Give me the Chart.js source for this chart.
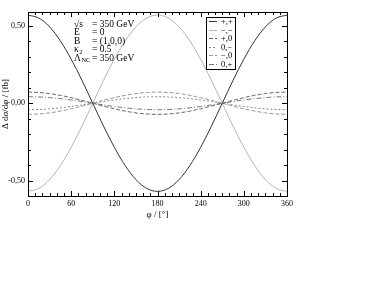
<!DOCTYPE html>
<html>
<head>
<meta charset="utf-8">
<script src="https://cdn.jsdelivr.net/npm/chart.js@4/dist/chart.umd.min.js"></script>
<style>
  html, body { margin: 0; padding: 0; background: #fff; }
  #wrap { width: 388px; height: 300px; }
</style>
</head>
<body>
<div id="wrap"><canvas id="chart" width="388" height="300"></canvas></div>
<script>
// Datos (phi en grados)
const phi = [0, 15, 30, 45, 60, 75, 90, 105, 120, 135, 150, 165, 180,
             195, 210, 225, 240, 255, 270, 285, 300, 315, 330, 345, 360];
const pp = [0.57, 0.551, 0.494, 0.403, 0.285, 0.148, 0, -0.148, -0.285, -0.403, -0.494, -0.551, -0.57,
            -0.551, -0.494, -0.403, -0.285, -0.148, 0, 0.148, 0.285, 0.403, 0.494, 0.551, 0.57];
const mm = [-0.57, -0.551, -0.494, -0.403, -0.285, -0.148, 0, 0.148, 0.285, 0.403, 0.494, 0.551, 0.57,
            0.551, 0.494, 0.403, 0.285, 0.148, 0, -0.148, -0.285, -0.403, -0.494, -0.551, -0.57];
const p0 = [0.072, 0.0695, 0.0624, 0.0509, 0.036, 0.0186, 0, -0.0186, -0.036, -0.0509, -0.0624, -0.0695, -0.072,
            -0.0695, -0.0624, -0.0509, -0.036, -0.0186, 0, 0.0186, 0.036, 0.0509, 0.0624, 0.0695, 0.072];
const zm = [-0.042, -0.0406, -0.0364, -0.0297, -0.021, -0.0109, 0, 0.0109, 0.021, 0.0297, 0.0364, 0.0406, 0.042,
            0.0406, 0.0364, 0.0297, 0.021, 0.0109, 0, -0.0109, -0.021, -0.0297, -0.0364, -0.0406, -0.042];
const m0 = [-0.072, -0.0695, -0.0624, -0.0509, -0.036, -0.0186, 0, 0.0186, 0.036, 0.0509, 0.0624, 0.0695, 0.072,
            0.0695, 0.0624, 0.0509, 0.036, 0.0186, 0, -0.0186, -0.036, -0.0509, -0.0624, -0.0695, -0.072];
const zp = [0.042, 0.0406, 0.0364, 0.0297, 0.021, 0.0109, 0, -0.0109, -0.021, -0.0297, -0.0364, -0.0406, -0.042,
            -0.0406, -0.0364, -0.0297, -0.021, -0.0109, 0, 0.0109, 0.021, 0.0297, 0.0364, 0.0406, 0.042];

const seriesLabels = ['+,+', '\u2212,\u2212', '+,0', '0,\u2212', '\u2212,0', '0,+'];
const xTicks = [0, 60, 120, 180, 240, 300, 360];
const yTicks = [-0.5, 0, 0.5];
// [simbolo, subindice, valor]
const infoLines = [
  ['\u221As', '', '= 350 GeV'],
  ['E', '', '= 0'],
  ['B', '', '= (1,0,0)'],
  ['\u03BA', '2', '= 0.5'],
  ['\u039B', 'NC', '= 350 GeV']
];

const SERIF = "'Liberation Serif', 'DejaVu Serif', serif";

const styles = [
  { color: '#333333', dash: [] },
  { color: '#b4b4b4', dash: [] },
  { color: '#666666', dash: [4, 2] },
  { color: '#888888', dash: [2, 2] },
  { color: '#999999', dash: [4, 2] },
  { color: '#777777', dash: [5, 2, 1, 2] }
];
const allData = [pp, mm, p0, zm, m0, zp];

const datasets = allData.map((arr, i) => ({
  label: seriesLabels[i],
  data: arr.map((v, k) => ({ x: phi[k], y: v })),
  borderColor: styles[i].color,
  borderDash: styles[i].dash,
  borderWidth: 1,
  pointRadius: 0,
  fill: false,
  cubicInterpolationMode: 'monotone'
}));

// Marco, marcas internas, texto y leyenda
const framePlugin = {
  id: 'frame',
  afterDraw(chart) {
    const { ctx, chartArea: a, scales: { x, y } } = chart;
    ctx.save();
    ctx.strokeStyle = '#000';
    ctx.lineWidth = 1;
    ctx.setLineDash([]);
    ctx.strokeRect(a.left + 0.5, a.top + 0.5, a.right - a.left, a.bottom - a.top);

    ctx.beginPath();
    for (let v = 0; v <= 360; v += 10) {
      const px = Math.round(x.getPixelForValue(v)) + 0.5;
      const len = v % 60 === 0 ? 5 : 3;
      ctx.moveTo(px, a.bottom); ctx.lineTo(px, a.bottom - len);
      ctx.moveTo(px, a.top); ctx.lineTo(px, a.top + len);
    }
    for (let k = -6; k <= 5; k++) {
      const v = k / 10;
      const py = Math.round(y.getPixelForValue(v)) + 0.5;
      const len = k % 5 === 0 ? 5 : 3;
      ctx.moveTo(a.left, py); ctx.lineTo(a.left + len, py);
      ctx.moveTo(a.right, py); ctx.lineTo(a.right - len, py);
    }
    ctx.stroke();

    // Parametros
    ctx.fillStyle = '#000';
    ctx.textBaseline = 'middle';
    ctx.textAlign = 'left';
    infoLines.forEach((ln, i) => {
      const ty = 24 + i * 8.5;
      ctx.font = '9.5px ' + SERIF;
      ctx.fillText(ln[0], 74, ty);
      const w = ctx.measureText(ln[0]).width;
      ctx.fillText(ln[2], 92, ty);
      if (ln[1]) {
        ctx.font = '6.5px ' + SERIF;
        ctx.fillText(ln[1], 74 + w + 0.5, ty + 2.5);
      }
    });

    // Leyenda
    const lx = 206, ly = 17, lw = 29, lh = 52;
    ctx.fillStyle = '#fff';
    ctx.fillRect(lx, ly, lw, lh);
    ctx.strokeStyle = '#000';
    ctx.strokeRect(lx + 0.5, ly + 0.5, lw, lh);
    ctx.font = '8.5px ' + SERIF;
    chart.data.datasets.forEach((ds, i) => {
      const ry = Math.round(21 + i * 8.5) + 0.5;
      ctx.strokeStyle = ds.borderColor;
      ctx.setLineDash(ds.borderDash);
      ctx.beginPath();
      ctx.moveTo(209, ry); ctx.lineTo(217, ry);
      ctx.stroke();
      ctx.fillStyle = '#000';
      ctx.fillText(ds.label, 221, ry);
    });
    ctx.restore();
  }
};

new Chart(document.getElementById('chart'), {
  type: 'line',
  data: { datasets },
  options: {
    responsive: false,
    animation: false,
    layout: { padding: { left: 0, top: 12, right: 101, bottom: 80 } },
    plugins: { legend: { display: false }, tooltip: { enabled: false } },
    scales: {
      x: {
        type: 'linear',
        min: 0,
        max: 360,
        afterBuildTicks: s => { s.ticks = xTicks.map(v => ({ value: v })); },
        afterFit: s => { s.height = 24; },
        grid: { display: false, drawTicks: false },
        border: { display: false },
        ticks: { color: '#000', padding: 3, maxRotation: 0, font: { family: SERIF, size: 8 } },
        title: { display: true, text: '\u03C6 / [\u00B0]', color: '#000', padding: 0, font: { family: SERIF, size: 9 } }
      },
      y: {
        min: -0.6,
        max: 0.59,
        afterBuildTicks: s => { s.ticks = yTicks.map(v => ({ value: v })); },
        afterFit: s => { s.width = 28; },
        grid: { display: false, drawTicks: false },
        border: { display: false },
        ticks: {
          color: '#000', padding: 3, font: { family: SERIF, size: 8 },
          callback: v => v.toFixed(2).replace('.', ',')
        },
        title: { display: true, text: '\u0394 d\u03C3/d\u03C6 / [fb]', color: '#000', padding: 0, font: { family: SERIF, size: 9 } }
      }
    }
  },
  plugins: [framePlugin]
});
</script>
</body>
</html>
